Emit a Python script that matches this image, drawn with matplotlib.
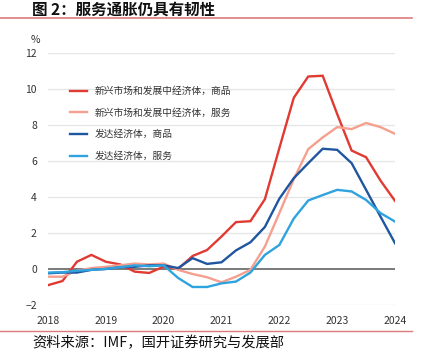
import matplotlib
matplotlib.use("Agg")
import matplotlib.pyplot as plt
from matplotlib.lines import Line2D

plt.rcParams['font.family'] = ['Noto Sans CJK SC', 'DejaVu Sans']

# quarterly, 2018Q1 .. 2024Q1
quarters = [2018 + i * 0.25 for i in range(25)]
em_goods = [-0.9, -0.67, 0.4, 0.78, 0.4, 0.25, -0.15, -0.22, 0.13, 0.0, 0.72, 1.05,
            1.8, 2.6, 2.65, 3.87, 6.7, 9.5, 10.68, 10.72, 8.6, 6.57, 6.2, 4.9, 3.78]
em_services = [-0.43, -0.43, -0.1, 0.05, 0.12, 0.2, 0.3, 0.25, 0.3, -0.05, -0.28, -0.46,
               -0.74, -0.43, -0.05, 1.24, 3.1, 4.98, 6.65, 7.3, 7.87, 7.76, 8.1, 7.87, 7.5]
ae_goods = [-0.24, -0.2, -0.2, -0.05, 0.0, 0.1, 0.12, 0.2, 0.2, 0.05, 0.6, 0.28,
            0.37, 1.03, 1.48, 2.33, 3.9, 5.04, 5.87, 6.67, 6.61, 5.87, 4.39, 2.9, 1.43]
ae_services = [-0.2, -0.18, -0.1, -0.05, 0.0, 0.1, 0.2, 0.15, 0.2, -0.5, -1.0, -1.0,
               -0.8, -0.7, -0.2, 0.78, 1.33, 2.8, 3.8, 4.1, 4.39, 4.3, 3.83, 3.1, 2.63]

series_names = ['新兴市场和发展中经济体，商品', '新兴市场和发展中经济体，服务',
                '发达经济体，商品', '发达经济体，服务']
colors = ['#e03a33', '#f5a08f', '#1f56a0', '#2fa3de']
year_ticks = [2018, 2019, 2020, 2021, 2022, 2023, 2024]
y_ticks = [-2, 0, 2, 4, 6, 8, 10, 12]

W, H = 428, 356
fig = plt.figure(figsize=(W / 100, H / 100), dpi=100)
ax = fig.add_axes([48 / W, 1 - 305 / H, (395 - 48) / W, (305 - 52.7) / H])

for yv in y_ticks:
    if yv == 0:
        continue
    ax.axhline(yv, color='#e6e6e6', lw=1.0, zorder=0)
ax.axhline(0, color='#7a7a7a', lw=1.4, zorder=1)

for data, c in zip([em_goods, em_services, ae_goods, ae_services], colors):
    ax.plot(quarters, data, color=c, lw=1.7, zorder=3, solid_joinstyle='miter')

ax.set_xlim(2018, 2024)
ax.set_ylim(-2, 12)
for s in ax.spines.values():
    s.set_visible(False)
ax.set_yticks(y_ticks)
ax.set_yticklabels([str(v).replace('-', '−') if v < 0 else str(v) for v in y_ticks])
ax.tick_params(axis='y', length=0, pad=8, labelsize=7.5, labelcolor='#333333')
ax.set_xticks(year_ticks)
ax.set_xticklabels([str(y) for y in year_ticks])
ax.set_xticks([2018, 2020, 2022, 2024], minor=True)
ax.tick_params(axis='x', which='major', length=0, pad=8, labelsize=7.5, labelcolor='#333333')
ax.tick_params(axis='x', which='minor', length=3, width=0.8, color='#555555', direction='out')

fig.text(35 / W, 1 - 40 / H, '%', fontsize=7.5, color='#333333', ha='center', va='center')

handles = [Line2D([], [], color=c, lw=1.7) for c in colors]
ax.legend(handles, series_names, loc='upper left', bbox_to_anchor=(0.045, 0.895),
          frameon=False, fontsize=7, handlelength=1.7, handletextpad=0.8,
          labelspacing=1.2, labelcolor='#333333', borderpad=0.2)

fig.text(32 / W, 1 - 14.5 / H, '图 2：服务通胀仍具有韧性', fontsize=11.2, fontweight='bold',
         ha='left', va='baseline', color='#111111')
fig.add_artist(Line2D([0, 412 / W], [1 - 17.5 / H, 1 - 17.5 / H], color='#e07a7a', lw=1.2))
fig.add_artist(Line2D([0, 412 / W], [1 - 331 / H, 1 - 331 / H], color='#e07a7a', lw=1.0))
fig.text(32 / W, 1 - 343 / H, '资料来源：IMF，国开证券研究与发展部', fontsize=10.3,
         ha='left', va='center', color='#111111')

fig.savefig('out.png', dpi=100)
